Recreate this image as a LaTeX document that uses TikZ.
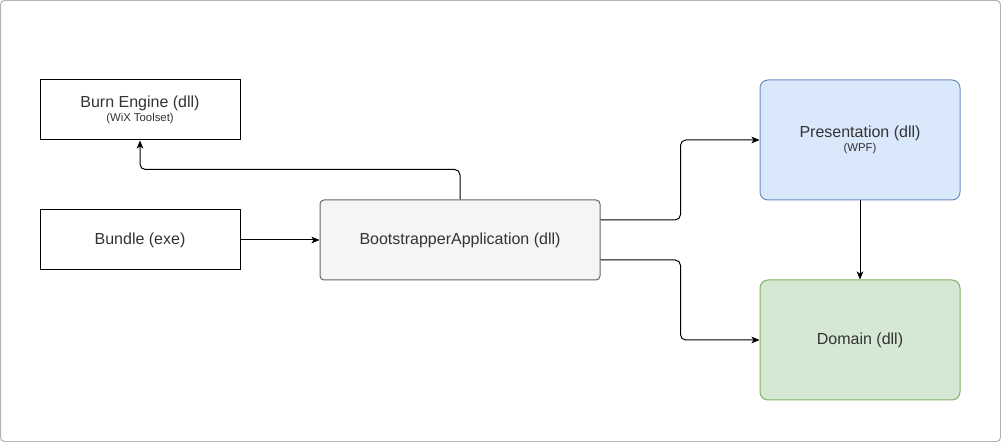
\documentclass[tikz,border=0pt]{standalone}
\usepackage{fontspec}
\setmainfont{Liberation Sans}
\usetikzlibrary{arrows.meta}
\definecolor{framegray}{HTML}{B3B3B3}
\definecolor{bafill}{HTML}{F5F5F5}
\definecolor{badraw}{HTML}{666666}
\definecolor{batext}{HTML}{333333}
\definecolor{presfill}{HTML}{DAE8FC}
\definecolor{presdraw}{HTML}{6C8EBF}
\definecolor{domfill}{HTML}{D5E8D4}
\definecolor{domdraw}{HTML}{82B366}
\begin{document}
\begin{tikzpicture}[
        x=0.75pt,
        y=-0.75pt,
        line width=0.75pt,
        font=\fontsize{12}{13}\selectfont
    ]
    \tikzset{
        mybox/.style = {rectangle, draw=black, fill=white, text=batext, align=center, inner sep=0pt, minimum width=150pt, minimum height=45pt},
        myboxg/.style = {mybox, rounded corners=3pt, draw=badraw, fill=bafill, minimum width=210pt, minimum height=60pt},
        myboxb/.style = {mybox, rounded corners=6pt, draw=presdraw, fill=presfill, minimum height=90pt},
        myboxgr/.style = {mybox, rounded corners=6pt, draw=domdraw, fill=domfill, minimum height=90pt},
        edgea/.style = {-{Stealth[length=6pt,width=5pt,inset=1.5pt]}, rounded corners=4pt},
    }
    \useasboundingbox (0,0) rectangle (1001,442);
    \draw[framegray, rounded corners=3pt, fill=white] (0.5,0.5) rectangle (1000.5,441.5);
    %
    \node[mybox] at (140,110) (burn) {Burn Engine (dll)\\[-2pt]{\fontsize{8.5}{9}\selectfont (WiX Toolset)}};
    \node[mybox] at (140,240) (bundle) {Bundle (exe)};
    \node[myboxg] at (460,240) (ba) {BootstrapperApplication (dll)};
    \node[myboxb] at (860,140) (pres) {Presentation (dll)\\[-2pt]{\fontsize{8.5}{9}\selectfont (WPF)}};
    \node[myboxgr] at (860,340) (dom) {Domain (dll)};
    %
    \draw[edgea] (bundle) -- (ba);
    \draw[edgea] (ba.north) -- ++(0,-30) -| (burn.south);
    \draw[edgea] ([yshift=15pt]ba.east) -- ++(80,0) |- (pres.west);
    \draw[edgea] ([yshift=-15pt]ba.east) -- ++(80,0) |- (dom.west);
    \draw[edgea] (pres) -- (dom);
\end{tikzpicture}
\end{document}
